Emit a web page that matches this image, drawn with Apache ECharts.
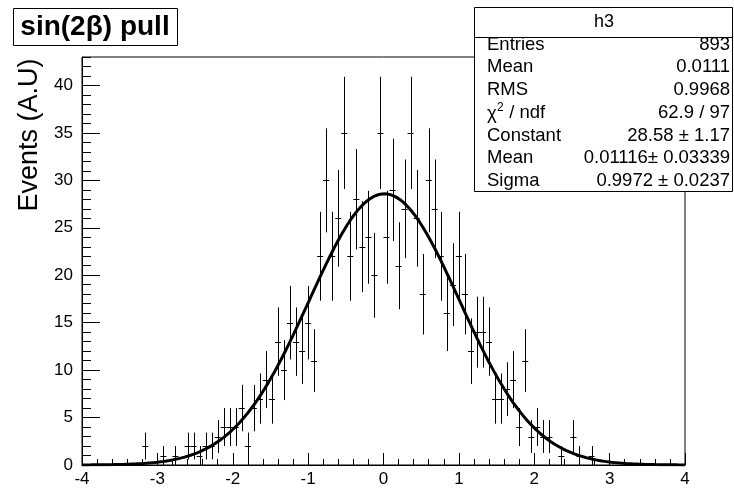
<!DOCTYPE html>
<html><head><meta charset="utf-8">
<script src="https://cdn.jsdelivr.net/npm/echarts@6/dist/echarts.min.js"></script>
<style>html,body{margin:0;padding:0;background:#fff}#c{width:734px;height:492px}</style>
</head><body><div id="c"></div>
<script>
// Histogram binning
const xMin = -4, xMax = 4, nBins = 100;
// Bin contents, bins of width 0.08 from -4 to 4
const counts = [
  0,0,0,0,0,0,0,0,0,0,
  2,0,0,1,0,1,0,2,2,1,
  2,2,3,4,4,4,6,2,6,7,
  9,7,13,10,15,13,12,15,11,22,
  30,22,26,35,22,28,23,24,20,35,
  24,29,21,27,35,26,18,30,27,22,
  16,19,22,18,12,14,14,13,7,7,
  8,9,4,11,3,4,3,3,0,1,
  0,3,1,0,1,0,0,0,0,0,
  0,0,0,0,0,0,0,0,0,0
];
// Gaussian fit parameters (from stats box)
const fitConstant = 28.58, fitMean = 0.01116, fitSigma = 0.9972;
// Axis ranges
const yMax = 43;
// Stats box
const statsTitle = 'h3';
const statsLabels = ['Entries', 'Mean', 'RMS', 'CHI', 'Constant', 'Mean', 'Sigma'];
const statsValues = ['893', '0.0111', '0.9968', '62.9 / 97', '28.58 \u00b1 1.17', '0.01116\u00b1 0.03339', '0.9972 \u00b1 0.0237'];
const titleText = 'sin(2\u03b2) pull';
const yTitle = 'Events (A.U)';

const binW = (xMax - xMin) / nBins;
const histData = [];
counts.forEach((c, i) => {
  if (c > 0) histData.push([xMin + binW * (i + 0.5), c, Math.sqrt(c)]);
});
const fitData = [];
for (let k = 0; k <= 400; k++) {
  const x = xMin + (xMax - xMin) * k / 400;
  fitData.push([x, fitConstant * Math.exp(-0.5 * Math.pow((x - fitMean) / fitSigma, 2))]);
}

const FONT = 'Liberation Sans';
const chart = echarts.init(document.getElementById('c'), null, {renderer: 'canvas'});

const graphics = [];
// Title box
graphics.push({type: 'rect', z: 100,
  shape: {x: 13.5, y: 8.5, width: 164, height: 37},
  style: {fill: '#fff', stroke: '#000', lineWidth: 1}});
graphics.push({type: 'text', x: 95, y: 27, z: 101,
  style: {text: titleText, font: 'bold 28px "' + FONT + '"', fill: '#000', align: 'center', verticalAlign: 'middle'}});
// Y title
graphics.push({type: 'text', x: 30, y: 135, rotation: Math.PI / 2, z: 101,
  style: {text: yTitle, font: '27px "' + FONT + '"', fill: '#000', align: 'center', verticalAlign: 'middle'}});
// Stats box
graphics.push({type: 'rect', z: 100, shape: {x: 474.5, y: 7.5, width: 258, height: 184},
  style: {fill: '#fff', stroke: '#000', lineWidth: 1}});
graphics.push({type: 'line', z: 101, shape: {x1: 474.5, y1: 37.5, x2: 732.5, y2: 37.5},
  style: {stroke: '#000', lineWidth: 1}});
graphics.push({type: 'text', z: 102, x: 604, y: 22,
  style: {text: statsTitle, font: '18px "' + FONT + '"', fill: '#000', align: 'center', verticalAlign: 'middle'}});
const rowY = [44.5, 67, 89.5, 112.5, 135.5, 158, 180.5];
const SF = '18.5px "' + FONT + '"';
statsLabels.forEach((lab, i) => {
  if (lab === 'CHI') {
    graphics.push({type: 'text', z: 102, x: 487, y: rowY[i] + 1,
      style: {text: '\u03c7', font: SF, fill: '#000', align: 'left', verticalAlign: 'middle'}});
    graphics.push({type: 'text', z: 102, x: 497, y: rowY[i] - 5,
      style: {text: '2', font: '12px "' + FONT + '"', fill: '#000', align: 'left', verticalAlign: 'middle'}});
    graphics.push({type: 'text', z: 102, x: 504, y: rowY[i],
      style: {text: ' / ndf', font: SF, fill: '#000', align: 'left', verticalAlign: 'middle'}});
  } else {
    graphics.push({type: 'text', z: 102, x: 487, y: rowY[i],
      style: {text: lab, font: SF, fill: '#000', align: 'left', verticalAlign: 'middle'}});
  }
  graphics.push({type: 'text', z: 102, x: 730, y: rowY[i],
    style: {text: statsValues[i], font: SF, fill: '#000', align: 'right', verticalAlign: 'middle'}});
});

const axisLabelStyle = {color: '#000', fontFamily: FONT, fontSize: 17};

chart.setOption({
  animation: false,
  backgroundColor: '#fff',
  grid: {left: 82, right: 49, top: 57, bottom: 27, show: true, borderColor: '#000', borderWidth: 1, backgroundColor: 'transparent'},
  xAxis: {
    type: 'value', min: xMin, max: xMax, interval: 1,
    axisLine: {show: true, onZero: false, lineStyle: {color: '#000', width: 1}},
    axisTick: {show: true, inside: true, length: 12, lineStyle: {color: '#000'}},
    minorTick: {show: true, splitNumber: 5, length: 6, lineStyle: {color: '#000'}},
    axisLabel: Object.assign({margin: 6}, axisLabelStyle),
    splitLine: {show: false}
  },
  yAxis: [{
    type: 'value', min: 0, max: yMax, interval: 5, position: 'left',
    axisLine: {show: true, onZero: false, lineStyle: {color: '#000', width: 1}},
    axisTick: {show: true, inside: true, length: 18, lineStyle: {color: '#000'}},
    axisLabel: Object.assign({margin: 9, showMaxLabel: false}, axisLabelStyle),
    splitLine: {show: false}
  }, {
    type: 'value', min: 0, max: yMax, interval: 1, position: 'left', offset: 0,
    axisLine: {show: false, onZero: false},
    axisTick: {show: true, inside: true, length: 9, lineStyle: {color: '#000'}},
    axisLabel: {show: false},
    splitLine: {show: false}
  }],
  series: [{
    type: 'custom',
    xAxisIndex: 0, yAxisIndex: 0,
    data: histData,
    clip: true,
    renderItem: function (params, api) {
      const x = api.value(0), y = api.value(1), e = api.value(2);
      const pL = api.coord([x - binW / 2, y]);
      const pR = api.coord([x + binW / 2, y]);
      const pT = api.coord([x, y + e]);
      const pB = api.coord([x, Math.max(0, y - e)]);
      const cx = Math.round(pT[0]) + 0.5;
      const cy = Math.round(pL[1]) + 0.5;
      return {type: 'group', children: [
        {type: 'line', shape: {x1: pL[0], y1: cy, x2: pR[0], y2: cy}, style: {stroke: '#000', lineWidth: 1}},
        {type: 'line', shape: {x1: cx, y1: pT[1], x2: cx, y2: pB[1]}, style: {stroke: '#000', lineWidth: 1}}
      ]};
    }
  }, {
    type: 'line',
    xAxisIndex: 0, yAxisIndex: 0,
    data: fitData,
    showSymbol: false, symbol: 'none',
    lineStyle: {color: '#000', width: 3},
    z: 5
  }],
  graphic: graphics
});
</script></body></html>
